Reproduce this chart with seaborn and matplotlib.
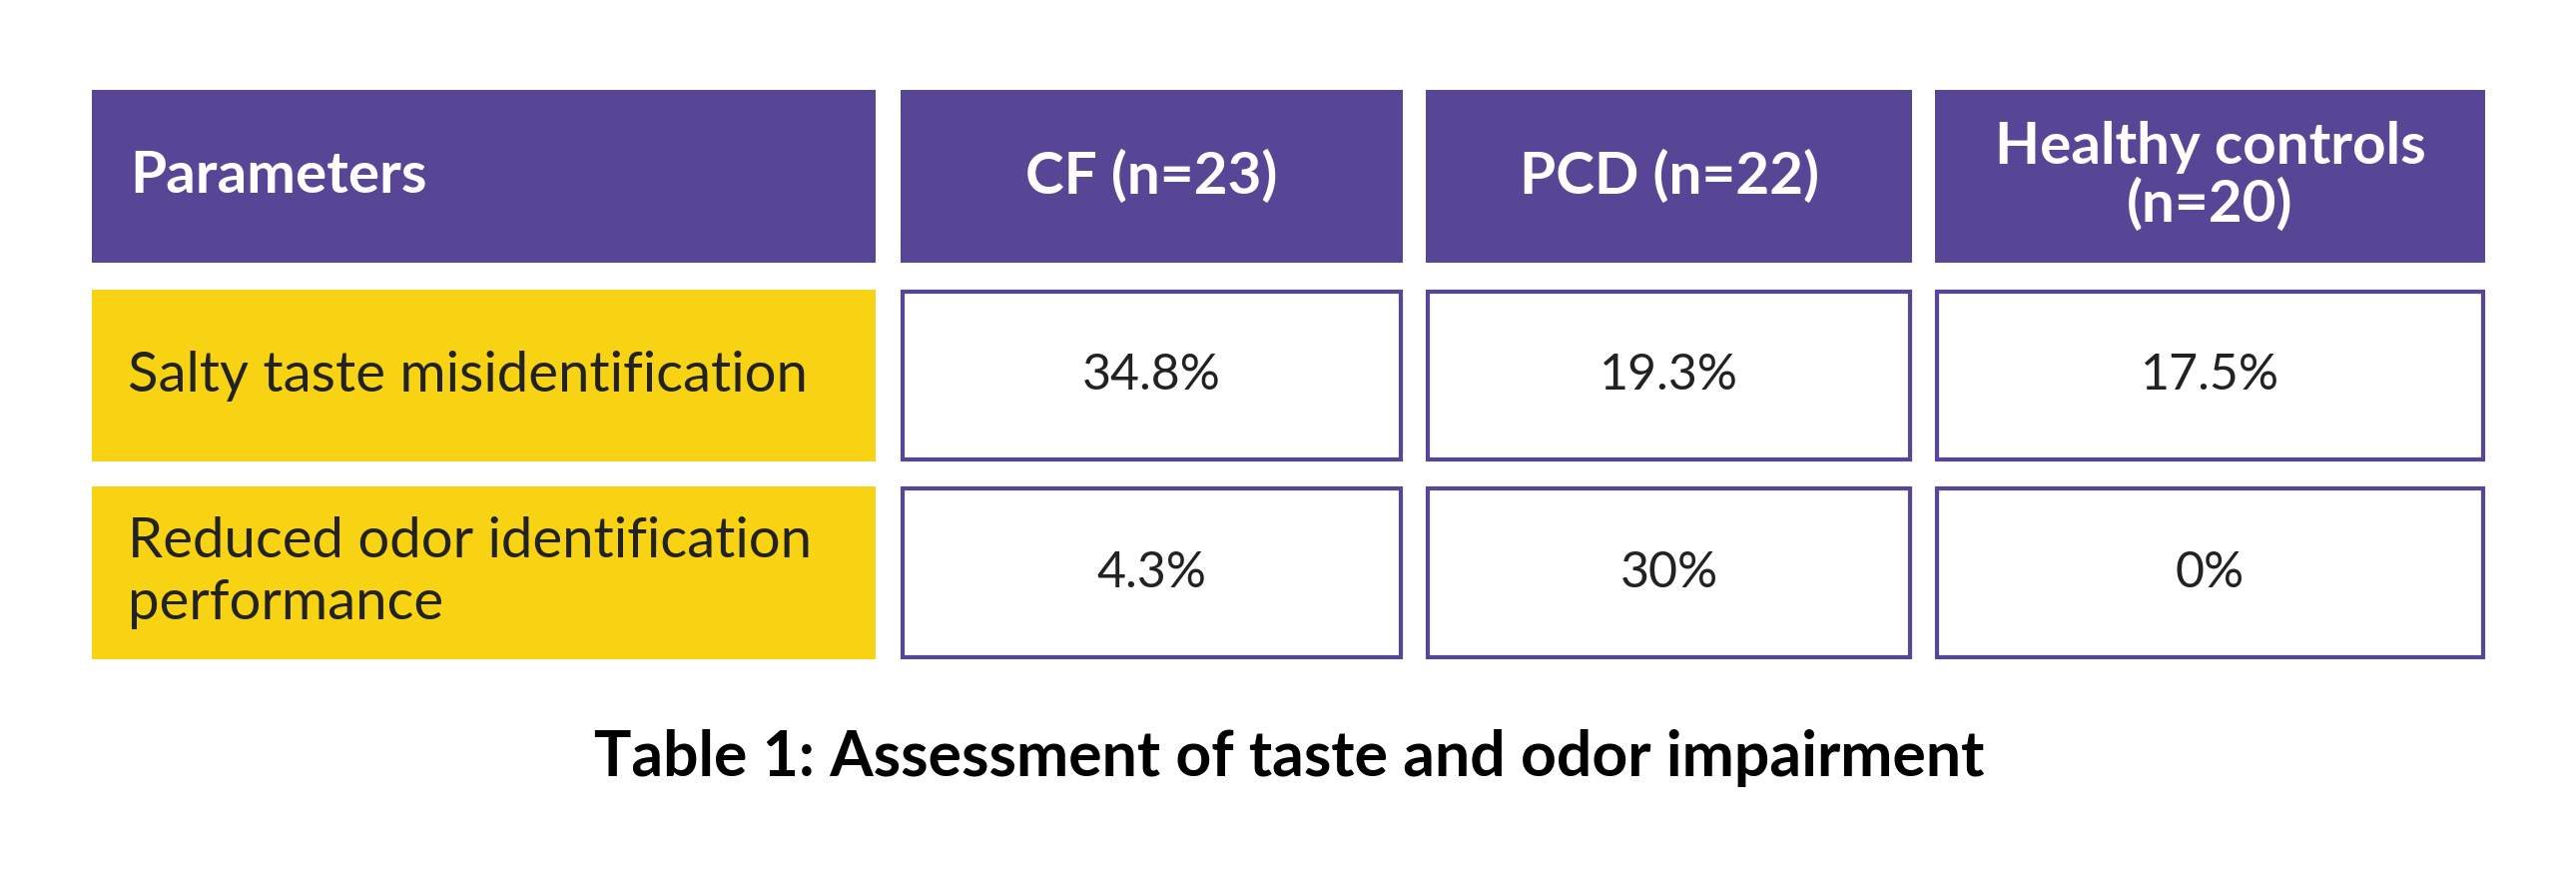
import matplotlib
matplotlib.use('Agg')
import matplotlib.pyplot as plt
from matplotlib.patches import Rectangle
import seaborn as sns

# table content
col_headers = ['Parameters', 'CF (n=23)', 'PCD (n=22)', 'Healthy controls\n(n=20)']
row_labels = ['Salty taste misidentification', 'Reduced odor identification\nperformance']
cf_values = ['34.8%', '4.3%']
pcd_values = ['19.3%', '30%']
control_values = ['17.5%', '0%']
caption = 'Table 1: Assessment of taste and odor impairment'

# layout (pixels of the 2580x871 canvas)
col_edges = [(92, 877), (902, 1405), (1428, 1915), (1938, 2489)]
row_edges = [(90, 263), (290, 462), (487, 660)]
label_pad = 36

purple = '#574596'
yellow = '#F8D313'
ink = '#222222'

sns.set_theme(style='white')
plt.rcParams['font.family'] = ['Lato', 'DejaVu Sans']

fig = plt.figure(figsize=(25.8, 8.71), dpi=100)
ax = fig.add_axes([0, 0, 1, 1])
ax.set_xlim(0, 2580)
ax.set_ylim(871, 0)
ax.axis('off')

# header row
top, bottom = row_edges[0]
for (left, right), text in zip(col_edges, col_headers):
    ax.add_patch(Rectangle((left, top), right - left, bottom - top,
                           facecolor=purple, edgecolor='none'))
    if text == 'Parameters':
        ax.text(left + label_pad + 2, (top + bottom) / 2, text, color='white',
                fontsize=42, fontweight='bold', ha='left', va='center')
    else:
        ax.text((left + right) / 2, (top + bottom) / 2, text, color='white',
                fontsize=42, fontweight='bold', ha='center', va='center',
                linespacing=1.1)

# body rows
body = list(zip(row_labels, cf_values, pcd_values, control_values))
for (top, bottom), cells in zip(row_edges[1:], body):
    left, right = col_edges[0]
    ax.add_patch(Rectangle((left, top), right - left, bottom - top,
                           facecolor=yellow, edgecolor='none'))
    ax.text(left + label_pad, (top + bottom) / 2, cells[0], color=ink,
            fontsize=40.5, ha='left', va='center', linespacing=1.25)
    for (left, right), value in zip(col_edges[1:], cells[1:]):
        ax.add_patch(Rectangle((left + 2, top + 2), right - left - 4, bottom - top - 4,
                               facecolor='white', edgecolor=purple, linewidth=3))
        ax.text((left + right) / 2, (top + bottom) / 2, value, color=ink,
                fontsize=36, ha='center', va='center')

ax.text(1291, 759, caption, color='black', fontsize=45, fontweight='bold',
        ha='center', va='center')

fig.savefig('out.png', dpi=100, facecolor='white')
